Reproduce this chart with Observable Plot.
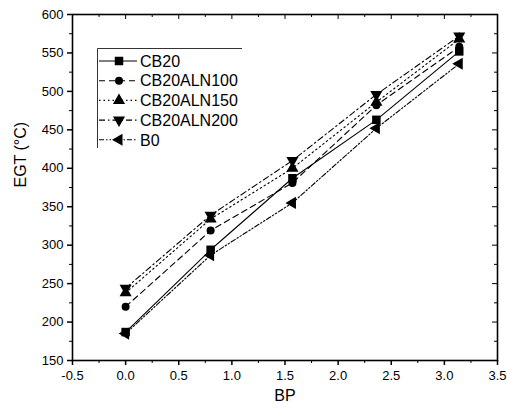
<!DOCTYPE html>
<html>
<head>
<meta charset="utf-8">
<script src="https://cdn.jsdelivr.net/npm/d3@7"></script>
<script src="https://cdn.jsdelivr.net/npm/@observablehq/plot@0.6"></script>
<style>
  body { margin: 0; background: white; }
  #wrap { position: relative; width: 507px; height: 409px; font-family: "Liberation Sans", Arial, sans-serif; }
  #legend { position: absolute; left: 97px; top: 48px; }
</style>
</head>
<body>
<div id="wrap"></div>
<script>
// ---- data ----
const bp = [0, 0.8, 1.57, 2.36, 3.14];
const seriesNames = ["CB20", "CB20ALN100", "CB20ALN150", "CB20ALN200", "B0"];
const cb20       = [187, 294, 387, 463, 552];
const cb20aln100 = [220, 319, 381, 482, 558];
const cb20aln150 = [238, 334, 400, 486, 568];
const cb20aln200 = [244, 339, 410, 496, 572];
const b0         = [185, 287, 355, 452, 536];
const xTicks = [-0.5, 0, 0.5, 1, 1.5, 2, 2.5, 3, 3.5];
const yTicks = [150, 200, 250, 300, 350, 400, 450, 500, 550, 600];

// ---- symbols ----
const sqrt3 = Math.sqrt(3);
const triDown = {draw(c, size) { const y = Math.sqrt(size / (sqrt3 * 3)); c.moveTo(0, y * 2); c.lineTo(-sqrt3 * y, -y); c.lineTo(sqrt3 * y, -y); c.closePath(); }};
const triUp = {draw(c, size) { const y = -Math.sqrt(size / (sqrt3 * 3)); c.moveTo(0, y * 2); c.lineTo(-sqrt3 * y, -y); c.lineTo(sqrt3 * y, -y); c.closePath(); }};
const triLeft = {draw(c, size) { const y = -Math.sqrt(size / (sqrt3 * 3)); c.moveTo(y * 2, 0); c.lineTo(-y, -sqrt3 * y); c.lineTo(-y, sqrt3 * y); c.closePath(); }};

const values = [cb20, cb20aln100, cb20aln150, cb20aln200, b0];
const styles = [
  {dash: null, symbol: "square", r: 4.8},
  {dash: "6,4", symbol: "circle", r: 4},
  {dash: "1.5,3", symbol: triUp, r: 4.5},
  {dash: "6,3,1.5,3", symbol: triDown, r: 4.5},
  {dash: "5,2,1.5,2,1.5,2", symbol: triLeft, r: 4.5}
];

const data = seriesNames.map((name, i) => bp.map((x, j) => ({series: name, x, y: values[i][j]})));

const W = 507, H = 409, mL = 72, mR = 10, mT = 14, mB = 49;
const frameW = W - mL - mR, frameH = H - mT - mB;
const minorX = d3.range(-0.25, 3.5, 0.5);
const minorY = d3.range(175, 600, 50);

const marks = [
  Plot.axisX({ticks: xTicks, tickFormat: d => d.toFixed(1), tickSize: 5, tickPadding: 5, label: null, strokeWidth: 1.5}),
  Plot.axisX({ticks: minorX, tickFormat: () => "", tickSize: 3, label: null}),
  Plot.axisY({ticks: yTicks, tickSize: 5, tickPadding: 4, label: null, strokeWidth: 1.5}),
  Plot.axisY({ticks: minorY, tickFormat: () => "", tickSize: 3, label: null}),
  Plot.tickX(xTicks, {x: d => d, insetBottom: frameH - 5, stroke: "black"}),
  Plot.tickX(minorX, {x: d => d, insetBottom: frameH - 3, stroke: "black"}),
  Plot.tickY(yTicks, {y: d => d, insetLeft: frameW - 5, stroke: "black"}),
  Plot.tickY(minorY, {y: d => d, insetLeft: frameW - 3, stroke: "black"}),
  Plot.frame({stroke: "black", strokeWidth: 1.6}),
  Plot.text(["EGT (°C)"], {frameAnchor: "left", dx: -52, rotate: -90, fontSize: 16, fill: "black"}),
  Plot.text(["BP"], {frameAnchor: "bottom", dy: 40, fontSize: 16, fill: "black"})
];
data.forEach((d, i) => {
  marks.push(Plot.line(d, {x: "x", y: "y", stroke: "black", strokeWidth: 1.1, strokeDasharray: styles[i].dash}));
});
data.forEach((d, i) => {
  marks.push(Plot.dot(d, {x: "x", y: "y", symbol: () => styles[i].symbol, r: styles[i].r, fill: "black", stroke: "none"}));
});

const chart = Plot.plot({
  width: W, height: H,
  marginLeft: mL, marginRight: mR, marginTop: mT, marginBottom: mB,
  x: {domain: [-0.5, 3.5]},
  y: {domain: [150, 600]},
  symbol: {type: "identity"},
  style: {fontFamily: "'Liberation Sans', Arial, sans-serif", fontSize: "13px", background: "white", color: "black"},
  marks
});
document.getElementById("wrap").appendChild(chart);

// ---- legend ----
const lw = 145, lh = 100, rowH = 19.7;
const leg = d3.create("svg").attr("id", "legend").attr("width", lw).attr("height", lh);
leg.append("line").attr("x1", 0.5).attr("x2", lw).attr("y1", 0.5).attr("y2", 0.5).attr("stroke", "#333");
leg.append("line").attr("x1", 0.5).attr("x2", 0.5).attr("y1", 0.5).attr("y2", lh).attr("stroke", "#333");
seriesNames.forEach((name, i) => {
  const cy = 13 + i * rowH;
  leg.append("line").attr("x1", 2).attr("x2", 40).attr("y1", cy).attr("y2", cy)
    .attr("stroke", "black").attr("stroke-width", 1.1).attr("stroke-dasharray", styles[i].dash);
  const sym = typeof styles[i].symbol === "string" ? (styles[i].symbol === "square" ? d3.symbolSquare : d3.symbolCircle) : styles[i].symbol;
  leg.append("path").attr("transform", `translate(22,${cy})`)
    .attr("d", d3.symbol(sym, Math.PI * styles[i].r * styles[i].r)()).attr("fill", "black");
  leg.append("text").attr("x", 43).attr("y", cy).attr("dy", "0.36em")
    .attr("font-size", 16).attr("font-family", "'Liberation Sans', Arial, sans-serif").attr("fill", "black").text(name);
});
document.getElementById("wrap").appendChild(leg.node());
</script>
</body>
</html>
